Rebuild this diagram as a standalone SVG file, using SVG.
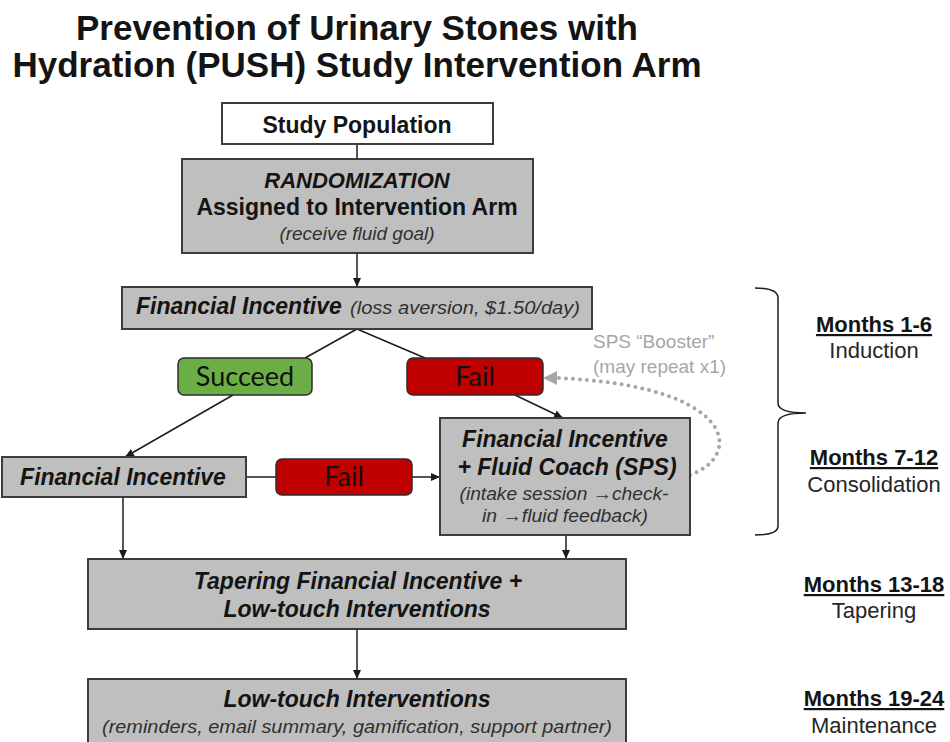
<svg xmlns="http://www.w3.org/2000/svg" width="950" height="742" viewBox="0 0 950 742">
<defs>
<style>
.t{font-family:"Liberation Sans",Arial,sans-serif;fill:#141414}
.b{font-weight:bold}
.bi{font-weight:bold;font-style:italic}
.i{font-style:italic;fill:#303030}
.box{fill:#bfbfbf;stroke:#3c3c3c;stroke-width:2}
.wbox{fill:#ffffff;stroke:#3c3c3c;stroke-width:2}
.ok{fill:#6aae45;stroke:#2e2e2e;stroke-width:1.5}
.bad{fill:#c00000;stroke:#2e2e2e;stroke-width:1.5}
.lbl{font-family:Lato,"Open Sans",sans-serif;font-size:27px;fill:#111111}
.ln{fill:none;stroke:#1c1c1c;stroke-width:1.5}
.mo{font-family:"Liberation Sans",Arial,sans-serif;font-size:22px;font-weight:bold;fill:#141414;text-decoration:underline}
.ph{font-family:"Liberation Sans",Arial,sans-serif;font-size:22px;fill:#262626}
.gr{font-family:"Liberation Sans",Arial,sans-serif;font-size:19px;fill:#a6a6a6}
.arw{font-weight:bold}
</style>
<marker id="ar" markerWidth="10" markerHeight="10" refX="9" refY="5" orient="auto" markerUnits="userSpaceOnUse">
<path d="M0,1 L9,5 L0,9 Z" fill="#1c1c1c"/>
</marker>
</defs>
<rect width="950" height="742" fill="#ffffff"/>

<g id="title">
<text class="t b" x="357" y="40" font-size="35" text-anchor="middle">Prevention of Urinary Stones with</text>
<text class="t b" x="357" y="77" font-size="35" text-anchor="middle">Hydration (PUSH) Study Intervention Arm</text>
</g>

<g id="connectors">
<line class="ln" x1="357" y1="144" x2="357" y2="159"/>
<line class="ln" x1="357" y1="253" x2="357" y2="287" marker-end="url(#ar)"/>
<line class="ln" x1="357" y1="329" x2="305" y2="358"/>
<line class="ln" x1="357" y1="329" x2="425" y2="358"/>
<line class="ln" x1="233" y1="395" x2="125" y2="457" marker-end="url(#ar)"/>
<line class="ln" x1="515" y1="395" x2="563" y2="418" marker-end="url(#ar)"/>
<line class="ln" x1="246" y1="477" x2="276" y2="477"/>
<line class="ln" x1="412" y1="477" x2="440" y2="477" marker-end="url(#ar)"/>
<line class="ln" x1="123" y1="497" x2="123" y2="559" marker-end="url(#ar)"/>
<line class="ln" x1="566" y1="535" x2="566" y2="559" marker-end="url(#ar)"/>
<line class="ln" x1="357" y1="629" x2="357" y2="679" marker-end="url(#ar)"/>
<path d="M690,475 C745,455 735,385 556,378" fill="none" stroke="#a6a6a6" stroke-width="4" stroke-linecap="round" stroke-dasharray="0 7"/>
<path d="M543,378 L557,371 L557,385 Z" fill="#a6a6a6"/>
<text class="gr" x="593" y="348">SPS “Booster”</text>
<text class="gr" x="593" y="373">(may repeat x1)</text>
</g>

<g id="study-population">
<rect class="wbox" x="222" y="103" width="271" height="41"/>
<text class="t b" x="357" y="133" font-size="23" text-anchor="middle">Study Population</text>
</g>

<g id="randomization">
<rect class="box" x="182" y="159" width="351" height="94"/>
<text class="t bi" x="357" y="188" font-size="22" text-anchor="middle">RANDOMIZATION</text>
<text class="t b" x="357" y="215" font-size="23" text-anchor="middle">Assigned to Intervention Arm</text>
<text class="t i" x="357" y="240" font-size="19" text-anchor="middle">(receive fluid goal)</text>
</g>

<g id="financial-incentive-1">
<rect class="box" x="122" y="287" width="470" height="42"/>
<text class="t bi" x="136" y="314" font-size="23">Financial Incentive</text>
<text class="t i" x="350" y="314" font-size="19" textLength="230" lengthAdjust="spacingAndGlyphs">(loss aversion, $1.50/day)</text>
</g>

<g id="succeed">
<rect class="ok" x="178" y="358" width="134" height="37" rx="6"/>
<text class="lbl" x="245" y="386" text-anchor="middle">Succeed</text>
</g>

<g id="fail-1">
<rect class="bad" x="407" y="358" width="136" height="37" rx="6"/>
<text class="lbl" x="475" y="386" text-anchor="middle">Fail</text>
</g>

<g id="financial-incentive-2">
<rect class="box" x="2" y="457" width="244" height="40"/>
<text class="t bi" x="123" y="485" font-size="23" text-anchor="middle">Financial Incentive</text>
</g>

<g id="fail-2">
<rect class="bad" x="276" y="459" width="136" height="36" rx="6"/>
<text class="lbl" x="344" y="486" text-anchor="middle">Fail</text>
</g>

<g id="sps">
<rect class="box" x="440" y="418" width="250" height="117"/>
<text class="t bi" x="565" y="447" font-size="23" text-anchor="middle">Financial Incentive</text>
<text class="t bi" x="567" y="475" font-size="23" text-anchor="middle">+ Fluid Coach (SPS)</text>
<text class="t i" x="564" y="500" font-size="19" text-anchor="middle" textLength="209" lengthAdjust="spacingAndGlyphs">(intake session <tspan class="arw">→</tspan>check-</text>
<text class="t i" x="565" y="522" font-size="19" text-anchor="middle" textLength="166" lengthAdjust="spacingAndGlyphs">in <tspan class="arw">→</tspan>fluid feedback)</text>
</g>

<g id="tapering">
<rect class="box" x="88" y="559" width="538" height="70"/>
<text class="t bi" x="358" y="589" font-size="23" text-anchor="middle">Tapering Financial Incentive +</text>
<text class="t bi" x="357" y="617" font-size="23" text-anchor="middle">Low-touch Interventions</text>
</g>

<g id="low-touch">
<rect class="box" x="88" y="679" width="538" height="70"/>
<text class="t bi" x="357" y="707" font-size="23" text-anchor="middle">Low-touch Interventions</text>
<text class="t i" x="357" y="733" font-size="19" text-anchor="middle" textLength="510" lengthAdjust="spacingAndGlyphs">(reminders, email summary, gamification, support partner)</text>
</g>

<g id="bracket">
<path d="M755,288 Q778,288 778,298 L778,403 Q778,413 806,413 Q778,413 778,423 L778,526 Q778,535 755,535" fill="none" stroke="#1c1c1c" stroke-width="1.5"/>
</g>

<g id="phases">
<text class="mo" x="874" y="332" text-anchor="middle">Months 1-6</text>
<text class="ph" x="874" y="358" text-anchor="middle">Induction</text>
<text class="mo" x="874" y="465" text-anchor="middle">Months 7-12</text>
<text class="ph" x="874" y="492" text-anchor="middle">Consolidation</text>
<text class="mo" x="874" y="592" text-anchor="middle">Months 13-18</text>
<text class="ph" x="874" y="618" text-anchor="middle">Tapering</text>
<text class="mo" x="874" y="706" text-anchor="middle">Months 19-24</text>
<text class="ph" x="874" y="733" text-anchor="middle">Maintenance</text>
</g>
</svg>
